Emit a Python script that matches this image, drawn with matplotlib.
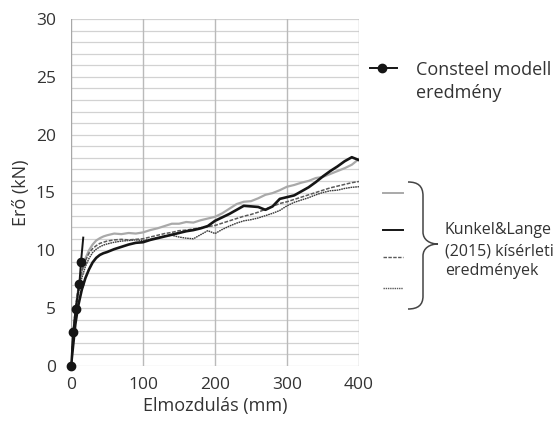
import matplotlib
matplotlib.use("Agg")
import matplotlib.pyplot as plt
from matplotlib.path import Path
from matplotlib.patches import PathPatch
from matplotlib.lines import Line2D

##  Data
disp = [0, 3, 6, 10, 15, 20, 25, 30, 35, 40, 45, 50,
        60, 70, 80, 90, 100, 110, 120, 130, 140, 150, 160, 170, 180, 190,
        200, 210, 220, 230, 240, 250, 260, 270, 280, 290, 300, 310, 320,
        330, 340, 350, 360, 370, 380, 390, 400]

test_gray = [0, 2.6, 4.6, 6.6, 8.2, 9.3, 10.0, 10.5, 10.85, 11.05, 11.2, 11.3,
             11.45, 11.4, 11.5, 11.45, 11.55, 11.75, 11.9, 12.1, 12.3, 12.3, 12.45, 12.4, 12.6, 12.75,
             12.9, 13.2, 13.6, 14.0, 14.2, 14.25, 14.5, 14.8, 14.95, 15.2, 15.5, 15.65, 15.85,
             16.0, 16.25, 16.35, 16.6, 16.85, 17.1, 17.4, 17.9]

test_black = [0, 1.8, 3.6, 5.2, 6.6, 7.6, 8.35, 8.95, 9.35, 9.6, 9.75, 9.85,
              10.1, 10.3, 10.5, 10.65, 10.7, 10.9, 11.05, 11.2, 11.35, 11.5, 11.65, 11.75, 11.9, 12.1,
              12.55, 12.85, 13.15, 13.5, 13.85, 13.8, 13.75, 13.5, 13.8, 14.45, 14.6, 14.75, 15.1,
              15.45, 15.9, 16.4, 16.85, 17.25, 17.7, 18.05, 17.8]

test_dashed = [0, 2.9, 4.9, 6.8, 8.2, 9.1, 9.75, 10.15, 10.4, 10.6, 10.7, 10.8,
               10.9, 10.95, 10.9, 10.95, 11.0, 11.15, 11.3, 11.45, 11.55, 11.7, 11.75, 11.85, 11.95, 12.05,
               12.15, 12.35, 12.55, 12.75, 12.95, 13.1, 13.3, 13.55, 13.8, 14.05, 14.2, 14.4, 14.6,
               14.8, 15.0, 15.2, 15.4, 15.55, 15.7, 15.85, 15.95]

test_dotted = [0, 2.4, 4.3, 6.2, 7.6, 8.6, 9.3, 9.8, 10.1, 10.3, 10.45, 10.55,
               10.7, 10.8, 10.85, 10.9, 10.85, 10.95, 11.1, 11.25, 11.3, 11.15, 11.05, 11.0, 11.35, 11.7,
               11.45, 11.8, 12.1, 12.35, 12.55, 12.65, 12.8, 13.0, 13.2, 13.45, 13.85, 14.15, 14.35,
               14.55, 14.8, 15.0, 15.15, 15.2, 15.35, 15.45, 15.5]

consteel_x = [0, 3.2, 6.5, 11.6, 13.9, 17]
consteel_y = [0, 2.96, 4.97, 7.1, 9.0, 11.1]

x_ticks = [0, 100, 200, 300, 400]
y_ticks = [0, 5, 10, 15, 20, 25, 30]

W, H = 559, 421

plt.rcParams['font.family'] = ['Open Sans', 'DejaVu Sans']

fig = plt.figure(figsize=(W / 100, H / 100), dpi=100)
ax = fig.add_axes([71 / W, 1 - 366 / H, (359 - 71) / W, (366 - 19) / H])

##  Excel-like grid
for yv in range(0, 31):
    ax.axhline(yv, color='#d2d2d2', lw=0.9, zorder=0)
for xv in x_ticks[1:]:
    ax.axvline(xv, color='#bababa', lw=1.0, zorder=0)
ax.axvline(0, color='#a8a8a8', lw=1.0, zorder=0)

ax.plot(disp, test_gray, color='#a9a9a9', lw=1.6, zorder=2)
ax.plot(disp, test_dotted, color='#3a3a3a', lw=1.0, ls=(0, (1.2, 0.5)), zorder=3)
ax.plot(disp, test_dashed, color='#5a5a5a', lw=1.1, ls=(0, (2.5, 1)), zorder=3)
ax.plot(disp, test_black, color='#151515', lw=1.9, zorder=4)
ax.plot(consteel_x, consteel_y, color='#151515', lw=1.4, marker='o', ms=6,
        markevery=[0, 1, 2, 3, 4], clip_on=False, zorder=5)

ax.set_xlim(0, 400)
ax.set_ylim(0, 30)
ax.set_xticks(x_ticks)
ax.set_yticks(y_ticks)
for s in ax.spines.values():
    s.set_visible(False)
ax.tick_params(length=0, labelsize=12.5, colors='#333333')
ax.tick_params(axis='y', pad=11)
ax.tick_params(axis='x', pad=8)
ax.set_xlabel('Elmozdulás (mm)', fontsize=13, color='#333333', labelpad=3)
ax.set_ylabel('Erő (kN)', fontsize=13, color='#333333', labelpad=4)

##  Legend on the right, drawn in pixel positions
def fx(px):
    return px / W

def fy(py):
    return 1 - py / H

fig.add_artist(Line2D([fx(370), fx(397)], [fy(68), fy(68)], color='#151515', lw=1.4,
                      transform=fig.transFigure))
fig.add_artist(Line2D([fx(382)], [fy(68)], color='#151515', marker='o', ms=6,
                      transform=fig.transFigure))
fig.text(fx(416), fy(70), 'Consteel modell', fontsize=13, color='#333333', va='center')
fig.text(fx(416), fy(93), 'eredmény', fontsize=13, color='#333333', va='center')

leg_styles = [('#a9a9a9', 1.4, '-'), ('#151515', 1.4, '-'),
              ('#5a5a5a', 1.0, (0, (2.5, 1))), ('#5a5a5a', 1.0, (0, (1, 0.6)))]
leg_y = [193, 230, 257, 288]
for (c, lw, ls), py in zip(leg_styles, leg_y):
    fig.add_artist(Line2D([fx(383), fx(403)], [fy(py), fy(py)], color=c, lw=lw, ls=ls,
                          transform=fig.transFigure))

brace = [(408, 182), (418, 182), (423, 186), (423, 196),
         (423, 232),
         (423, 240), (430, 244), (438, 244),
         (430, 244), (423, 248), (423, 256),
         (423, 296),
         (423, 305), (418, 309), (408, 309)]
codes = [Path.MOVETO, Path.CURVE4, Path.CURVE4, Path.CURVE4,
         Path.LINETO,
         Path.CURVE4, Path.CURVE4, Path.CURVE4,
         Path.CURVE4, Path.CURVE4, Path.CURVE4,
         Path.LINETO,
         Path.CURVE4, Path.CURVE4, Path.CURVE4]
verts = [(fx(px), fy(py)) for px, py in brace]
fig.add_artist(PathPatch(Path(verts, codes), fill=False, edgecolor='#444444', lw=1.1,
                         transform=fig.transFigure))

for txt, py in zip(['Kunkel&Lange', '(2015) kísérleti', 'eredmények'], [230, 251, 271]):
    fig.text(fx(445), fy(py), txt, fontsize=11.5, color='#333333', va='center')

fig.savefig('out.png', dpi=100)
